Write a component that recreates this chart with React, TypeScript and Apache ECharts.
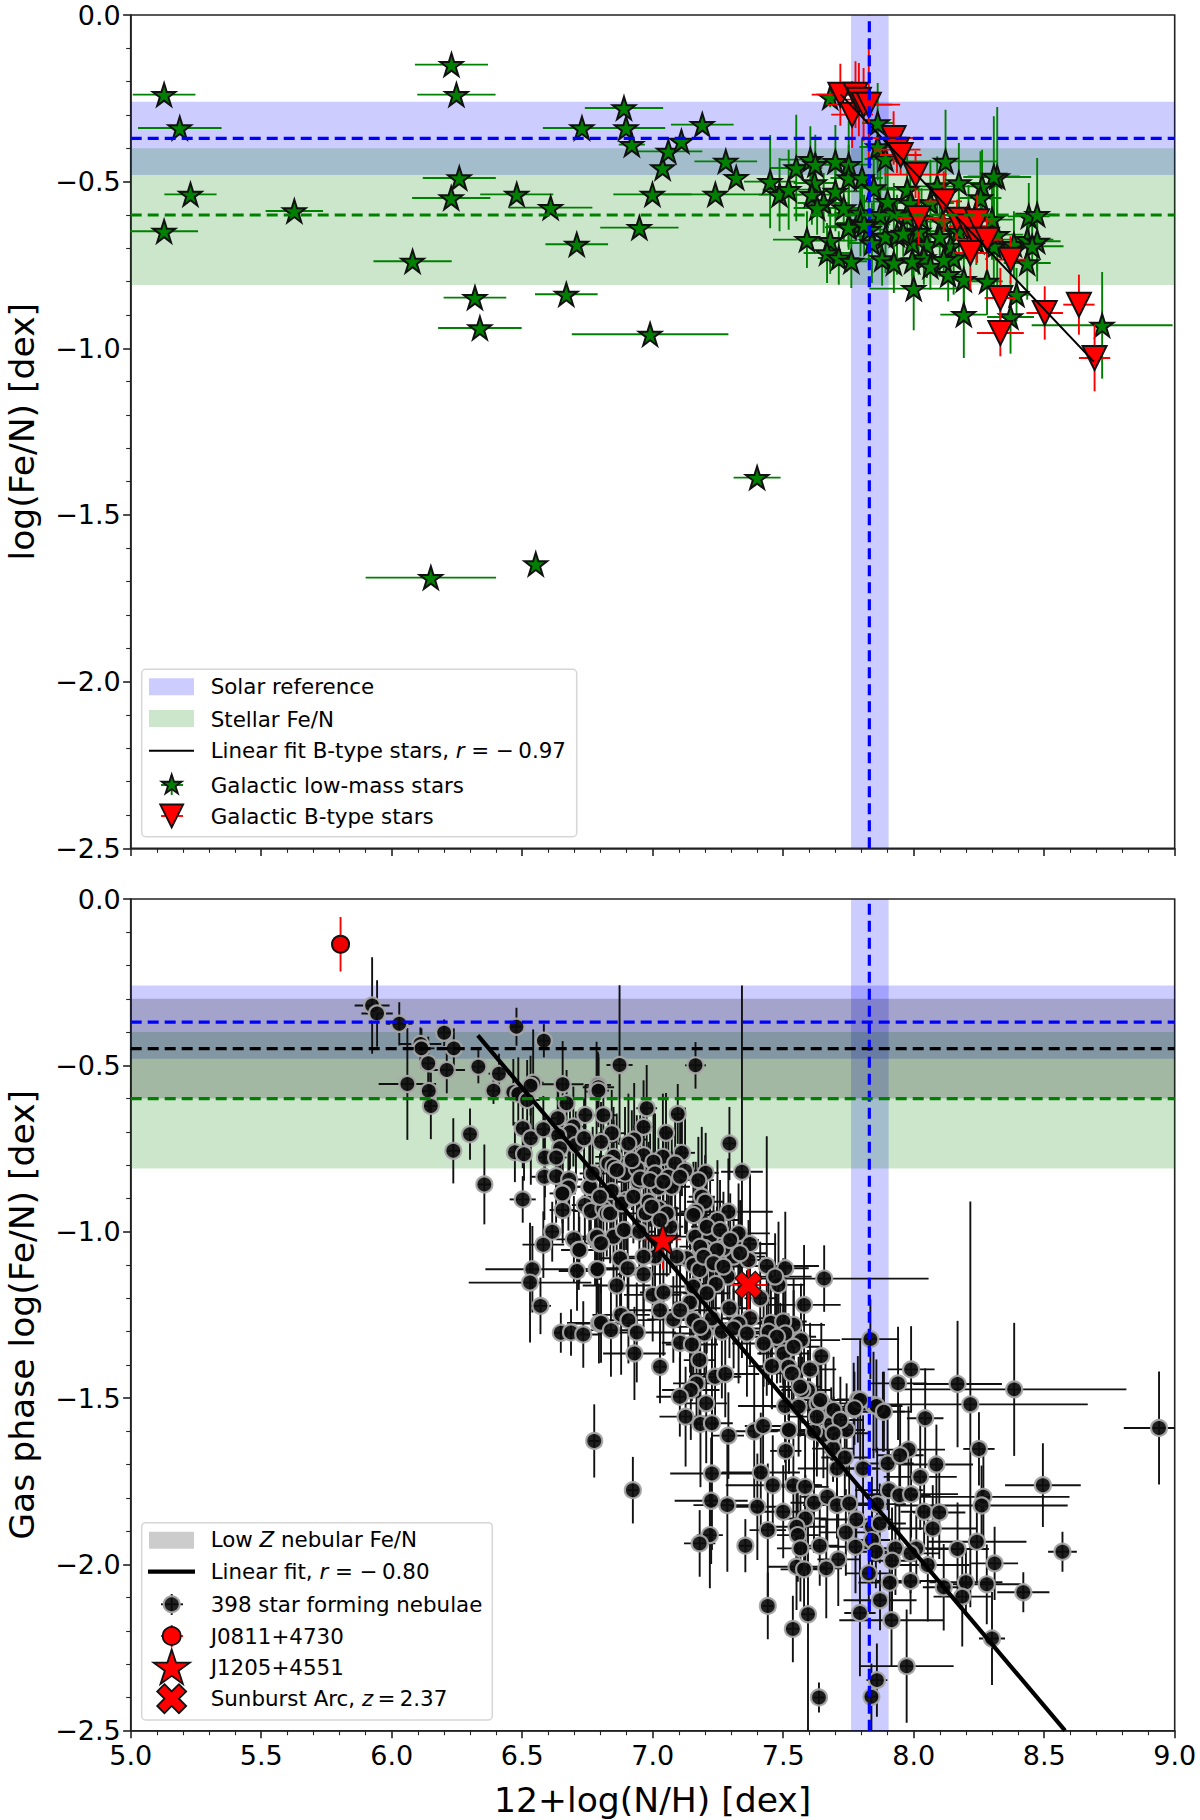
import React, { useEffect, useRef } from "react";
import * as echarts from "echarts";

const FONT = "DejaVu Sans";

const xTicks = { min: 5, max: 9, interval: 0.5 };
const yTicks = { min: -2.5, max: 0, interval: 0.5 };
const solarFeN = { mid: -0.37, low: -0.48, high: -0.26 };
const solarNH = { mid: 7.83, low: 7.76, high: 7.904 };
const stellarFeN = { mid: -0.6, low: -0.81, high: -0.4 };
const nebularFeN = { mid: -0.45, low: -0.6, high: -0.3 };
const fitBType = [[7.72, -0.238], [8.69, -1.04]];
const fitNebulae = [[6.33, -0.41], [8.58, -2.5]];

// x, y, x error, y error
const lowMassStars = [
  [5.128,-.239,.12,0],[5.188,-.339,.16,0],[5.229,-.538,.10,0],[5.128,-.649,.13,0],[5.627,-.588,.11,0],
  [6.229,-.149,.14,0],[6.248,-.239,.15,0],[6.259,-.489,.14,0],[6.228,-.549,.15,0],[6.08,-.739,.15,0],
  [6.319,-.848,.12,0],[6.338,-.939,.16,0],[6.479,-.538,.14,0],[6.609,-.578,.16,0],[6.729,-.339,.15,0],
  [6.89,-.279,.15,0],[6.898,-.339,.15,0],[6.92,-.389,.05,0],[6.949,-.638,.15,0],[6.709,-.688,.12,0],
  [6.669,-.838,.12,0],[6.99,-.958,.3,0],[6.999,-.538,.15,0],[7.038,-.459,.02,0],[7.06,-.409,.13,0],
  [7.11,-.379,.02,0],[7.19,-.329,.12,0],[7.28,-.439,.12,0],[7.32,-.488,.03,0],[7.24,-.538,.2,0],
  [7.40,-1.388,.09,0],[6.552,-1.647,.01,0],[6.15,-1.688,.25,0],
  [7.45,-.50,.10,.14],[7.486,-.539,.08,.11],[7.521,-.524,.10,.12],[7.55,-.459,.10,.16],[7.604,-.434,.12,.10],
  [7.623,-.449,.10,.09],[7.62,-.504,.08,.09],[7.61,-.539,.10,.09],[7.655,-.564,.10,.09],[7.63,-.579,.09,.08],
  [7.70,-.529,.10,.12],[7.732,-.579,.08,.10],[7.751,-.449,.09,.13],[7.751,-.489,.07,.10],[7.802,-.489,.08,.12],
  [7.796,-.594,.10,.08],[7.872,-.599,.12,.14],[7.847,-.519,.08,.11],[7.68,-.247,.02,.03],[7.862,-.324,.06,.12],
  [7.862,-.396,.07,.10],[7.892,-.432,.08,.09],[8.122,-.439,.20,.155],[8.32,-.486,.13,.21],[8.307,-.484,.10,.18],
  [7.975,-.524,.12,.10],[7.975,-.604,.10,.08],[8.064,-.564,.09,.13],[8.173,-.504,.10,.12],[8.262,-.514,.07,.11],
  [8.256,-.549,.08,.14],[8.09,-.514,.11,.09],[7.987,-.564,.08,.10],[7.751,-.634,.08,.07],[7.796,-.624,.09,.10],
  [7.828,-.644,.07,.11],[7.591,-.674,.13,.085],[7.68,-.677,.10,.10],[7.668,-.714,.09,.09],[7.713,-.729,.08,.08],
  [7.761,-.739,.06,.08],[7.84,-.684,.09,.12],[7.879,-.732,.10,.08],[7.924,-.744,.07,.09],[7.892,-.664,.11,.11],
  [7.936,-.659,.09,.12],[7.994,-.684,.08,.10],[7.924,-.594,.11,.09],[8.019,-.649,.10,.13],[8.051,-.689,.08,.10],
  [8.039,-.729,.09,.08],[7.994,-.739,.07,.08],[8.064,-.754,.08,.07],[8.0,-.821,.17,.125],[8.132,-.779,.06,.08],
  [8.192,-.794,.07,.09],[8.281,-.799,.06,.10],[8.141,-.694,.10,.09],[8.153,-.729,.08,.11],[8.115,-.734,.07,.07],
  [8.173,-.649,.06,.10],[8.307,-.694,.09,.14],[8.32,-.659,.10,.16],[8.30,-.614,.08,.12],[8.384,-.689,.07,.10],
  [8.441,-.604,.08,.10],[8.473,-.599,.07,.17],[8.435,-.674,.10,.09],[8.473,-.679,.09,.12],[8.454,-.694,.12,.08],
  [8.435,-.744,.09,.11],[8.394,-.839,.05,.08],[8.371,-.906,.09,.11],[8.192,-.899,.09,.13],[8.722,-.931,.27,.16],
  [7.70,-.44,.07,.11],[7.75,-.637,.09,.06],[7.81,-.629,.10,.09],[7.90,-.56,.09,.13],[7.96,-.655,.10,.07],
  [8.03,-.61,.08,.09],[8.11,-.62,.09,.08],[8.21,-.60,.10,.09],[8.24,-.68,.07,.07],[8.10,-.665,.06,.12],
];

const bTypeStars = [
  [7.719,-.239,.11,.093],[7.764,-.299,.08,.10],[7.777,-.239,.07,.10],[7.79,-.254,.05,.11],[7.808,-.269,.14,.11],
  [7.828,-.269,.09,.19],[7.923,-.369,.09,.08],[7.936,-.404,.09,.07],[7.95,-.42,.08,.06],[8.007,-.479,.12,.07],
  [8.019,-.609,.08,.08],[8.115,-.559,.07,.09],[8.166,-.614,.09,.06],[8.205,-.634,.07,.06],[8.243,-.619,.06,.08],
  [8.243,-.674,.08,.07],[8.281,-.674,.06,.09],[8.217,-.714,.06,.11],[8.371,-.734,.06,.07],[8.332,-.849,.06,.09],
  [8.502,-.894,.07,.08],[8.633,-.869,.06,.09],[8.332,-.954,.09,.07],[8.693,-1.029,.06,.10],
];

const nebulae = [
  [5.925,-.32,.067,.145],[5.944,-.344,.06,.10],[6.029,-.375,.05,.065],[6.06,-.556,.11,.168],[6.11,-.436,.08,.05],
  [6.114,-.449,.05,.06],[6.14,-.494,.03,.08],[6.142,-.577,.03,.06],[6.15,-.622,.03,.10],[6.201,-.402,.03,.04],
  [6.238,-.449,.04,.06],[6.211,-.514,.07,.07],[6.236,-.757,.03,.098],[6.30,-.707,.03,.077],[6.355,-.858,.03,.12],
  [6.332,-.504,.03,.05],[6.39,-.576,.03,.04],[6.411,-.525,.04,.06],[6.478,-.384,.02,.057],[6.466,-.581,.03,.10],
  [6.485,-.586,.04,.11],[6.519,-.604,.05,.12],[6.542,-.552,.04,.16],[6.532,-.561,.03,.09],[6.583,-.426,.02,.05],
  [6.655,-.557,.08,.13],[6.67,-.614,.03,.10],[6.785,-.579,.04,.15],[6.79,-.559,.05,.10],[6.502,-.689,.03,.12],
  [6.533,-.719,.03,.14],[6.581,-.692,.04,.10],[6.636,-.659,.03,.11],[6.742,-.649,.03,.09],[6.696,-.684,.05,.12],
  [6.683,-.701,.06,.11],[6.638,-.711,.04,.16],[6.645,-.749,.03,.13],[6.706,-.739,.04,.10],[6.737,-.719,.04,.12],
  [6.472,-.761,.02,.09],[6.507,-.767,.03,.08],[6.587,-.777,.03,.12],[6.63,-.777,.04,.10],[6.585,-.835,.05,.13],
  [6.63,-.833,.06,.14],[6.68,-.843,.05,.11],[6.677,-.867,.03,.13],[6.757,-.865,.06,.15],[6.655,-.885,.05,.12],
  [6.502,-.903,.05,.07],[6.655,-.935,.05,.10],[6.74,-.92,.05,.12],[6.763,-.938,.07,.11],[6.615,-1.0,.03,.09],
  [6.698,-1.023,.07,.13],[6.581,-1.039,.08,.10],[6.717,-1.055,.06,.12],[6.779,-1.02,.09,.14],[6.795,-1.035,.06,.11],
  [6.539,-1.113,.18,.13],[6.53,-1.153,.235,.18],[6.71,-1.118,.07,.12],[6.785,-1.113,.09,.14],[6.57,-1.223,.04,.085],
  [6.648,-1.304,.03,.06],[6.687,-1.303,.05,.07],[6.734,-1.309,.07,.10],[6.794,-1.276,.09,.12],
  [6.873,-.499,.05,.24],[7.164,-.50,.04,.07],[6.792,-.566,.06,.09],[6.792,-.576,.04,.11],[6.977,-.629,.04,.13],
  [7.096,-.646,.03,.09],[6.811,-.65,.05,.10],[6.965,-.685,.04,.14],[7.051,-.703,.03,.12],[6.843,-.704,.05,.13],
  [6.929,-.723,.05,.17],[6.907,-.735,.04,.15],[6.802,-.73,.06,.12],[7.112,-.763,.05,.13],[7.294,-.735,.03,.11],
  [6.965,-.77,.05,.16],[6.85,-.775,.07,.15],[6.83,-.795,.05,.13],[6.85,-.805,.06,.14],[7.039,-.775,.07,.19],
  [7.003,-.79,.06,.17],[7.086,-.795,.05,.15],[6.894,-.825,.06,.20],[6.939,-.81,.07,.16],[7.009,-.825,.05,.18],
  [7.06,-.835,.07,.14],[7.124,-.817,.08,.19],[7.203,-.823,.05,.12],[7.342,-.82,.08,.56],[7.175,-.845,.06,.13],
  [6.945,-.85,.08,.16],[7.022,-.867,.06,.15],[7.073,-.865,.07,.17],[6.76,-.865,.05,.13],[6.843,-.878,.07,.14],
  [6.77,-.825,.05,.14],[6.654,-.885,.03,.09],[6.984,-.91,.07,.18],[6.898,-.905,.06,.15],[6.811,-.93,.05,.16],
  [6.824,-.945,.07,.13],[6.973,-.945,.06,.14],[7.022,-.93,.08,.17],[7.188,-.895,.05,.21],[7.201,-.91,.07,.14],
  [7.165,-.94,.06,.15],[7.156,-.95,.07,.16],[7.29,-.94,.17,.16],[7.248,-.965,.08,.18],[7.067,-.985,.05,.14],
  [6.85,-1.015,.07,.13],[6.89,-.995,.05,.17],[6.949,-1.0,.06,.12],[7.163,-1.015,.07,.15],[7.22,-1.017,.08,.19],
  [7.329,-1.005,.12,.15],[7.373,-1.037,.10,.21],[6.786,-1.015,.06,.12],[6.802,-1.035,.05,.15],[6.719,-1.055,.07,.10],
  [6.875,-1.08,.08,.16],[6.904,-1.11,.09,.14],[7.009,-1.075,.05,.13],[7.218,-1.07,.06,.16],[7.31,-1.075,.12,.14],
  [7.367,-1.085,.09,.12],[7.271,-1.05,.07,.17],[7.201,-1.05,.06,.13],[7.131,-1.08,.08,.15],[7.156,-1.10,.07,.19],
  [7.179,-1.115,.05,.16],[7.437,-1.103,.20,.39],[7.508,-1.11,.09,.17],[7.482,-1.16,.10,.19],[7.469,-1.135,.14,.13],
  [7.657,-1.141,.40,.10],[6.788,-1.113,.07,.13],[6.965,-1.128,.10,.16],[7.287,-1.135,.07,.13],[7.242,-1.157,.12,.18],
  [6.862,-1.162,.13,.15],[7.0,-1.19,.11,.14],[7.041,-1.183,.09,.19],[7.143,-1.213,.06,.21],[7.028,-1.236,.12,.16],
  [7.079,-1.264,.10,.13],[7.294,-1.23,.08,.15],[7.58,-1.22,.14,.18],[7.373,-1.26,.09,.14],[7.412,-1.20,.06,.17],
  [6.879,-1.25,.11,.18],[6.907,-1.266,.10,.13],[6.802,-1.274,.13,.12],[6.84,-1.296,.09,.14],[6.939,-1.303,.15,.15],
  [7.156,-1.266,.09,.17],[7.198,-1.306,.12,.13],[7.227,-1.261,.13,.16],[7.265,-1.301,.08,.20],[7.329,-1.276,.11,.18],
  [7.453,-1.274,.13,.15],[7.444,-1.301,.10,.16],[7.54,-1.28,.12,.14],[7.50,-1.27,.09,.19],[7.489,-1.334,.07,.12],
  [7.508,-1.306,.08,.14],[7.568,-1.326,.15,.17],[7.501,-1.366,.10,.15],[7.834,-1.323,.11,.12],[7.105,-1.334,.07,.12],
  [7.15,-1.339,.10,.17],[6.93,-1.366,.12,.14],[7.179,-1.386,.06,.18],[7.028,-1.406,.03,.11],[7.457,-1.404,.09,.13],
  [7.52,-1.406,.12,.16],[7.533,-1.426,.08,.10],[7.603,-1.414,.10,.14],[7.646,-1.374,.03,.10],[7.99,-1.414,.09,.13],
  [7.94,-1.456,.11,.17],[8.168,-1.458,.17,.19],[8.385,-1.474,.43,.20],[8.217,-1.519,.45,.61,.05],[7.786,-1.504,.08,.13],
  [7.846,-1.521,.09,.16],[7.882,-1.541,.11,.12],[7.77,-1.534,.07,.14],[8.044,-1.561,.07,.15],[8.94,-1.59,.135,.17],
  [7.239,-1.436,.10,.16],[7.278,-1.428,.13,.13],[7.168,-1.456,.09,.14],[7.146,-1.476,.11,.15],[7.104,-1.496,.09,.12],
  [7.205,-1.516,.08,.18],[7.126,-1.556,.10,.15],[7.183,-1.578,.07,.19],[7.227,-1.576,.08,.14],[7.29,-1.613,.06,.13],
  [7.389,-1.60,.09,.20],[7.423,-1.584,.07,.16],[7.522,-1.598,.05,.13],[7.51,-1.659,.06,.09],[7.227,-1.727,.16,.23],
  [7.414,-1.724,.15,.18],[7.46,-1.762,.18,.15],[7.539,-1.762,.11,.14],[7.584,-1.767,.09,.17],[7.224,-1.809,.14,.19],
  [7.286,-1.822,.13,.20],[7.401,-1.827,.10,.16],[7.50,-1.842,.12,.14],[6.776,-1.629,.02,.11],[6.924,-1.777,.02,.10],
  [7.441,-1.897,.07,.20],[7.219,-1.912,.05,.16],[7.18,-1.937,.06,.10],[7.355,-1.944,.03,.08],[7.585,-1.862,.08,.13],
  [7.618,-1.815,.09,.15],[7.551,-1.887,.11,.11],[7.556,-1.912,.08,.14],[7.566,-1.952,.09,.16],[7.64,-1.944,.07,.12],
  [7.711,-1.985,.08,.14],[7.665,-2.012,.06,.15],[7.551,-2.007,.11,.13],[7.58,-2.015,.09,.12],[7.669,-1.797,.10,.15],
  [7.706,-1.822,.13,.10],[7.753,-1.817,.12,.14],[7.78,-1.865,.14,.11],[7.74,-1.904,.10,.13],[7.777,-1.947,.10,.14],
  [7.828,-2.027,.09,.12],[7.908,-2.055,.12,.10],[7.871,-2.108,.14,.09],[7.794,-2.146,.06,.19],[7.915,-2.168,.20,.14],
  [7.441,-2.125,.02,.10],[7.537,-2.194,.03,.10],[7.595,-2.15,.03,.36],[7.973,-2.306,.18,.17],[7.859,-2.348,.04,.11],
  [7.838,-2.398,.03,.10],[7.637,-2.40,.02,.045],[7.706,-1.712,.15,.13],[7.806,-1.712,.12,.16],[7.90,-1.697,.10,.14],
  [7.98,-1.655,.14,.13],[7.948,-1.672,.09,.15],[8.087,-1.70,.14,.12],[8.025,-1.737,.14,.16],[8.25,-1.653,.06,.11],
  [7.691,-1.652,.08,.10],[7.736,-1.679,.09,.16],[7.654,-1.611,.10,.13],[7.618,-1.601,.12,.12],[7.743,-1.596,.07,.14],
  [7.684,-1.578,.09,.11],[7.905,-1.777,.13,.12],[7.945,-1.792,.12,.15],[7.99,-1.789,.18,.13],[8.267,-1.797,.33,.14],
  [8.26,-1.823,.33,.12],[8.04,-1.842,.09,.11],[8.098,-1.844,.10,.14],[8.073,-1.892,.17,.13],[7.86,-1.819,.11,.17],
  [7.84,-1.887,.09,.15],[7.87,-1.877,.10,.12],[7.84,-1.927,.07,.13],[7.855,-1.962,.08,.11],[7.93,-1.952,.12,.14],
  [8.01,-1.952,.13,.10],[7.917,-1.989,.09,.16],[7.988,-1.967,.11,.12],[8.054,-2.002,.16,.17],[8.242,-1.932,.19,.12],
  [8.168,-1.954,.12,.14],[8.31,-1.997,.09,.11],[8.57,-1.962,.055,.06],[8.495,-1.762,.145,.126],[7.988,-2.05,.13,.10],
  [8.115,-2.069,.08,.13],[8.2,-2.054,.14,.10],[8.186,-2.097,.11,.15],[8.28,-2.06,.13,.12],[8.42,-2.084,.10,.06],
  [8.30,-2.223,.05,.14],[7.595,-1.476,.09,.12],[7.662,-1.526,.10,.14],[7.632,-1.516,.12,.13],[7.573,-1.476,.08,.10],
  [7.795,-1.506,.09,.18],[7.773,-1.531,.13,.11],[7.857,-1.524,.10,.14],[7.886,-1.541,.08,.12],[7.507,-1.524,.18,.17],
  [7.559,-1.526,.11,.15],[7.522,-1.596,.09,.12],
  [6.862,-.815,.06,.17],[6.92,-.785,.05,.15],[6.952,-.84,.07,.19],[6.99,-.845,.05,.14],[7.041,-.85,.06,.16],
  [7.105,-.835,.04,.18],[6.798,-.895,.07,.13],[6.837,-.945,.06,.15],[6.881,-.915,.05,.17],[6.926,-.895,.08,.14],
  [6.996,-.925,.06,.16],[7.054,-.945,.07,.19],[7.028,-.965,.05,.13],[7.207,-.985,.06,.17],[7.258,-.995,.07,.15],
  [7.297,-1.025,.11,.14],[7.182,-1.045,.08,.18],[7.246,-1.055,.09,.13],[7.335,-1.065,.10,.16],[7.195,-1.075,.07,.14],
  [7.233,-1.095,.11,.20],[7.271,-1.105,.08,.12],[7.092,-1.075,.09,.15],[6.965,-1.075,.07,.17],[7.156,-1.165,.11,.13],
  [7.207,-1.185,.09,.18],[7.105,-1.236,.12,.14],[7.182,-1.286,.10,.16],[7.31,-1.291,.13,.12],[7.361,-1.306,.09,.19],
  [7.476,-1.316,.15,.14],[7.54,-1.346,.10,.17],[7.425,-1.336,.12,.13],[7.565,-1.466,.08,.15],[7.642,-1.506,.13,.12],
  [7.693,-1.536,.10,.16],[7.719,-1.566,.09,.13],[7.629,-1.556,.11,.18],[7.693,-1.606,.14,.11],
];

const j0811 = [[5.804, -0.136, 0.035, 0.082]];
const j1205 = [[7.039, -1.023, 0.07, 0.09]];
const sunburst = [[7.367, -1.16, 0.07, 0.10]];

const STAR_POINTS = [[100,0],[122.5,69.1],[195.1,69.1],[136.3,111.8],[158.8,180.9],[100,138.2],[41.2,180.9],[63.7,111.8],[4.9,69.1],[77.5,69.1]];
const TRI_POINTS = [[0,0],[100,0],[50,100]];
const X_POINTS = [[25,0],[50,25],[75,0],[100,25],[75,50],[100,75],[75,100],[50,75],[25,100],[0,75],[25,50],[0,25]];
const toPath = (p: number[][]) => "path://M" + p.map((q) => q.join(" ")).join(" L") + " Z";

const GREEN = "#008000", RED = "#ff0000", SOFT_RED = "#ee0000";

function errorBars(name: string, data: number[][], color: string, xi: number, z: number, width = 1.9) {
  return {
    name, type: "custom", xAxisIndex: xi, yAxisIndex: xi, z, clip: true, silent: true,
    encode: { x: 0, y: 1 }, data,
    renderItem: (_: any, api: any) => {
      const x = api.value(0), y = api.value(1), xe = api.value(2), ye = api.value(3);
      const low = api.value(4);
      const yl = Number.isFinite(low) ? low : ye;
      const a = api.coord([x - xe, y]), b = api.coord([x + xe, y]);
      const c = api.coord([x, y + ye]), d = api.coord([x, y - yl]);
      const style = { stroke: color, lineWidth: width, fill: "none" };
      return {
        type: "group",
        children: [
          { type: "line", shape: { x1: a[0], y1: a[1], x2: b[0], y2: b[1] }, style },
          { type: "line", shape: { x1: c[0], y1: c[1], x2: d[0], y2: d[1] }, style },
        ],
      };
    },
  };
}

function markers(name: string, data: number[][], symbol: string, size: number, color: string, border: string, bw: number, xi: number, z: number) {
  return {
    name, type: "scatter", xAxisIndex: xi, yAxisIndex: xi, z, silent: true,
    symbol, symbolSize: size, data: data.map((d) => [d[0], d[1]]),
    itemStyle: { color, borderColor: border, borderWidth: bw, opacity: 1 },
  };
}

function band(name: string, xi: number, color: string, z: number, areas: any[]) {
  return {
    name, type: "scatter", xAxisIndex: xi, yAxisIndex: xi, z, silent: true, data: [],
    markArea: { silent: true, z, itemStyle: { color, opacity: 0.2, borderWidth: 0 }, label: { show: false }, data: areas },
  };
}

function segment(name: string, pts: number[][], color: string, width: number, dash: any, xi: number, z: number) {
  return {
    name, type: "line", xAxisIndex: xi, yAxisIndex: xi, z, silent: true, data: pts, symbol: "none",
    lineStyle: { color, width, type: dash, cap: "butt" }, clip: true,
  };
}

const horiz = (b: { low: number; high: number }) => [{ yAxis: b.high }, { yAxis: b.low }];
const vert = (b: { low: number; high: number }) => [{ xAxis: b.low }, { xAxis: b.high }];
const DASH = [11, 6];

function makeXAxis(gridIndex: number, labels: boolean) {
  return {
    type: "value", gridIndex, ...xTicks, position: "bottom",
    name: labels ? "12+log(N/H) [dex]" : "", nameLocation: "middle", nameGap: 52,
    nameTextStyle: { fontFamily: FONT, fontSize: 34.6, color: "#000" },
    axisLine: { show: true, onZero: false, lineStyle: { color: "#222", width: 1.6 } },
    axisTick: { show: true, length: 7.6, lineStyle: { color: "#222", width: 1.6 } },
    minorTick: { show: true, splitNumber: 5, length: 4.5, lineStyle: { color: "#222", width: 1.1 } },
    axisLabel: { show: labels, fontFamily: FONT, fontSize: 27, color: "#000", margin: 11, formatter: (v: number) => v.toFixed(1), hideOverlap: false },
    splitLine: { show: false },
  };
}

function makeYAxis(gridIndex: number, name: string) {
  return {
    type: "value", gridIndex, ...yTicks,
    name, nameLocation: "middle", nameGap: 91,
    nameTextStyle: { fontFamily: FONT, fontSize: 34.6, color: "#000" },
    axisLine: { show: true, onZero: false, lineStyle: { color: "#222", width: 1.6 } },
    axisTick: { show: true, length: 7.6, lineStyle: { color: "#222", width: 1.6 } },
    minorTick: { show: true, splitNumber: 5, length: 4.5, lineStyle: { color: "#222", width: 1.1 } },
    axisLabel: { fontFamily: FONT, fontSize: 27, color: "#000", margin: 10, formatter: (v: number) => v.toFixed(1).replace("-", "\u2212") },
    splitLine: { show: false },
  };
}

const poly = (pts: number[][], cx: number, cy: number, s: number, ox: number, oy: number, fill: string, lw = 1.8) => ({
  type: "polygon", z: 101,
  shape: { points: pts.map(([a, b]) => [cx + (a - ox) * s, cy + (b - oy) * s]) },
  style: { fill, stroke: "#111", lineWidth: lw, lineJoin: "miter" },
});
const ln = (x1: number, y1: number, x2: number, y2: number, stroke: string, lineWidth = 1.9) => ({
  type: "line", z: 101, shape: { x1, y1, x2, y2 }, style: { stroke, lineWidth },
});
const box = (x: number, y: number, width: number, height: number, fill: string) => ({
  type: "rect", z: 101, shape: { x, y, width, height }, style: { fill, stroke: "none" },
});
const frame = (x: number, y: number, width: number, height: number) => ({
  type: "rect", z: 100, shape: { x, y, width, height, r: 4 },
  style: { fill: "rgba(255,255,255,0.8)", stroke: "#d6d6d6", lineWidth: 1.5 },
});
const LEGEND_SIZE = 21.4;
const TEXT_BASE = { fontFamily: FONT, fontSize: LEGEND_SIZE, fill: "#000", verticalAlign: "middle", align: "left" };
const txt = (x: number, y: number, text: string, rich?: any) => ({
  type: "text", z: 101, x, y, style: { ...TEXT_BASE, text, ...(rich ? { rich } : {}) },
});
const RICH = {
  a: { fontFamily: FONT, fontSize: LEGEND_SIZE, fill: "#000", color: "#000" },
  i: { fontFamily: FONT, fontSize: LEGEND_SIZE, fontStyle: "italic", fill: "#000", color: "#000" },
};

const TX = 210.7, LX1 = 149, LX2 = 194, MX = 171.7;

const topLegend = [
  frame(141.7, 669.3, 435, 167.4),
  box(LX1, 678.3, 45, 17, "#ccccff"), txt(TX, 686.7, "Solar reference"),
  box(LX1, 710, 45, 17, "#cce6cc"), txt(TX, 719, "Stellar Fe/N"),
  ln(LX1, 750.7, LX2, 750.7, "#000", 2), txt(TX, 750.7, "{a|Linear fit B-type stars, }{i|r}{a| = \u2212\u20090.97}", RICH),
  ln(161, 785, 183, 785, GREEN), ln(MX, 775, MX, 795, GREEN), poly(STAR_POINTS, MX, 785, 0.105, 100, 100, GREEN), txt(TX, 785, "Galactic low-mass stars"),
  ln(161, 816, 183, 816, RED), poly(TRI_POINTS, MX, 816, 0.23, 50, 50, RED), txt(TX, 816, "Galactic B-type stars"),
];

const bottomLegend = [
  frame(141.7, 1522.7, 350.6, 197.3),
  box(LX1, 1531.7, 45, 17, "#cccccc"), txt(TX, 1539.3, "{a|Low }{i|Z}{a| nebular Fe/N}", RICH),
  ln(LX1 - 1, 1571.7, LX2 + 1, 1571.7, "#000", 4.2), txt(TX, 1571.7, "{a|Linear fit, }{i|r}{a| = \u2212\u20090.80}", RICH),
  ln(161, 1604.3, 183, 1604.3, "#111"), ln(MX, 1594, MX, 1615, "#111"),
  { type: "circle", z: 101, shape: { cx: MX, cy: 1604.3, r: 8 }, style: { fill: "rgba(10,10,10,0.9)", stroke: "#a0a0a0", lineWidth: 2 } },
  txt(TX, 1604.3, "398 star forming nebulae"),
  ln(161, 1636, 183, 1636, RED), ln(MX, 1625, MX, 1647, RED),
  { type: "circle", z: 101, shape: { cx: MX, cy: 1636, r: 9 }, style: { fill: RED, stroke: "#111", lineWidth: 1.8 } },
  txt(TX, 1636, "J0811+4730"),
  poly(STAR_POINTS, MX, 1668.5, 0.19, 100, 100, RED), txt(TX, 1667.3, "J1205+4551"),
  poly(X_POINTS, MX, 1698.7, 0.29, 50, 50, RED), txt(TX, 1698.7, "{a|Sunburst Arc, }{i|z}{a|\u2009=\u20092.37}", RICH),
];

function buildOption() {
  return {
    animation: false,
    backgroundColor: "#fff",
    grid: [
      { left: 130.7, width: 1044, top: 15, height: 833.3, show: true, borderColor: "#222", borderWidth: 1.6, backgroundColor: "transparent", outerBoundsMode: "none" },
      { left: 130.7, width: 1044, top: 899, height: 831.7, show: true, borderColor: "#222", borderWidth: 1.6, backgroundColor: "transparent", outerBoundsMode: "none" },
    ],
    xAxis: [makeXAxis(0, false), makeXAxis(1, true)],
    yAxis: [makeYAxis(0, "log(Fe/N) [dex]"), makeYAxis(1, "Gas phase log(Fe/N) [dex]")],
    graphic: [...topLegend, ...bottomLegend],
    series: [
      band("Solar reference", 0, "#0000ff", 1, [horiz(solarFeN), vert(solarNH)]),
      band("Stellar Fe/N", 0, "#008000", 1, [horiz(stellarFeN)]),
      errorBars("Galactic low-mass stars error", lowMassStars, GREEN, 0, 2),
      markers("Galactic low-mass stars", lowMassStars, toPath(STAR_POINTS), 22.5, GREEN, "#111", 2, 0, 3),
      errorBars("Galactic B-type stars error", bTypeStars, RED, 0, 4),
      markers("Galactic B-type stars", bTypeStars, toPath(TRI_POINTS), 24, RED, "#111", 2, 0, 5),
      segment("Linear fit B-type stars", fitBType, "#000", 2, "solid", 0, 6),
      segment("Solar N/H", [[solarNH.mid, yTicks.min], [solarNH.mid, yTicks.max]], "#0000ff", 3.2, DASH, 0, 7),
      segment("Solar Fe/N", [[xTicks.min, solarFeN.mid], [xTicks.max, solarFeN.mid]], "#0000ff", 3.2, DASH, 0, 7),
      segment("Stellar Fe/N mean", [[xTicks.min, stellarFeN.mid], [xTicks.max, stellarFeN.mid]], "#008000", 3.2, DASH, 0, 7),

      band("Solar reference 2", 1, "#0000ff", 1, [horiz(solarFeN), vert(solarNH)]),
      band("Stellar Fe/N 2", 1, "#008000", 1, [horiz(stellarFeN)]),
      band("Low Z nebular Fe/N", 1, "#000000", 1, [horiz(nebularFeN)]),
      errorBars("Nebulae error", nebulae, "#111", 1, 2),
      errorBars("J1205 error", j1205, RED, 1, 2),
      errorBars("Sunburst error", sunburst, RED, 1, 2),
      markers("398 star forming nebulae", nebulae, "circle", 16, "rgba(12,12,12,0.92)", "rgba(165,165,165,0.95)", 2.2, 1, 3),
      segment("Linear fit", fitNebulae, "#000", 4.2, "solid", 1, 4),
      segment("Solar N/H 2", [[solarNH.mid, yTicks.min], [solarNH.mid, yTicks.max]], "#0000ff", 3.2, DASH, 1, 5),
      segment("Solar Fe/N 2", [[xTicks.min, solarFeN.mid], [xTicks.max, solarFeN.mid]], "#0000ff", 3.2, DASH, 1, 5),
      segment("Stellar Fe/N mean 2", [[xTicks.min, stellarFeN.mid], [xTicks.max, stellarFeN.mid]], "#008000", 3.2, DASH, 1, 5),
      segment("Nebular Fe/N mean", [[xTicks.min, nebularFeN.mid], [xTicks.max, nebularFeN.mid]], "#000", 3.2, DASH, 1, 5),
      errorBars("J0811 error", j0811, RED, 1, 6),
      markers("J0811+4730", j0811, "circle", 17, SOFT_RED, "#111", 2, 1, 7),
      markers("J1205+4551", j1205, toPath(STAR_POINTS), 32, RED, "#111", 1.8, 1, 7),
      markers("Sunburst Arc", sunburst, toPath(X_POINTS), 27, RED, "#111", 1.2, 1, 7),
    ],
  };
}

export default function App() {
  const ref = useRef<HTMLDivElement>(null);
  useEffect(() => {
    if (!ref.current) return;
    const chart = echarts.init(ref.current, undefined, { renderer: "svg" });
    chart.setOption(buildOption() as any);
    return () => chart.dispose();
  }, []);
  return <div ref={ref} style={{ position: "absolute", left: 0, top: 0, width: 1200, height: 1820 }} />;
}
